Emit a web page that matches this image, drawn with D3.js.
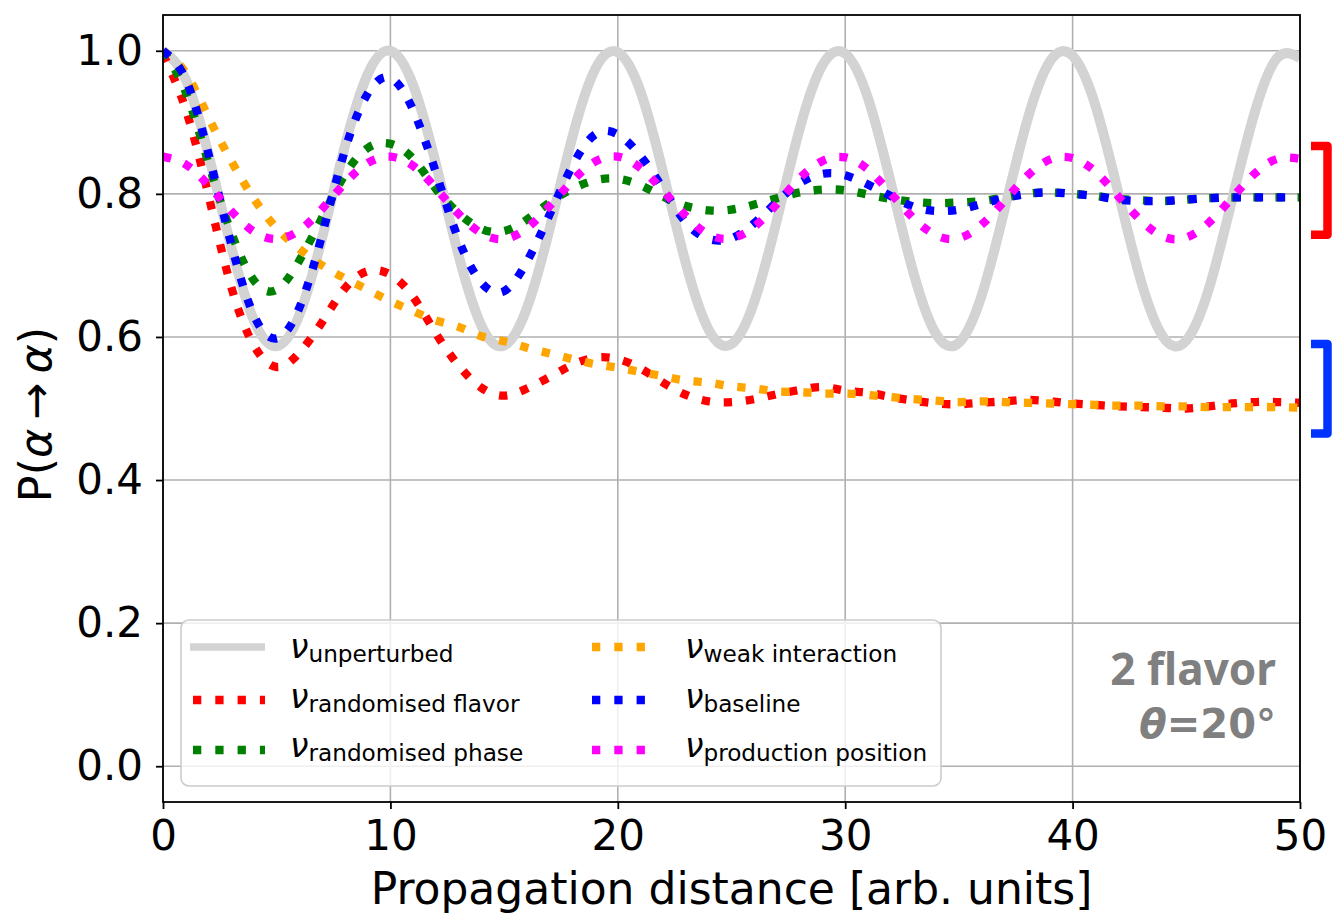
<!DOCTYPE html>
<html>
<head>
<meta charset="utf-8">
<script src="https://cdn.jsdelivr.net/npm/d3@7"></script>
<style>
  body { margin: 0; background: #fff; }
  text { font-family: "DejaVu Sans", sans-serif; }
</style>
</head>
<body>
<svg id="mainsvg" width="1332" height="919"></svg>
<script>
// propagation distance samples [arb. units]
const distance = [0,1,2,3,4,5,6,7,8,9,10,11,12,13,14,15,16,17,18,19,20,21,22,23,24,25,
  26,27,28,29,30,31,32,33,34,35,36,37,38,39,40,41,42,43,44,45,46,47,48,49,50];

// survival probability P(alpha -> alpha)
const unperturbed = [1.000,0.960,0.855,0.726,0.623,0.587,0.631,0.739,0.867,0.967,1.000,
  0.952,0.842,0.714,0.616,0.588,0.640,0.751,0.879,0.974,0.998,0.943,0.829,0.702,0.610,0.590,
  0.649,0.764,0.891,0.980,0.996,0.934,0.816,0.690,0.604,0.592,0.658,0.777,0.902,0.985,0.993,
  0.924,0.803,0.679,0.599,0.595,0.668,0.790,0.913,0.990,0.990];
const randomisedFlavor = [0.995,0.918,0.798,0.670,0.588,0.558,0.578,0.621,0.668,0.692,0.687,
  0.656,0.605,0.560,0.529,0.518,0.528,0.544,0.561,0.571,0.569,0.556,0.536,0.519,0.510,0.509,
  0.513,0.520,0.526,0.530,0.525,0.522,0.516,0.511,0.507,0.506,0.508,0.510,0.512,0.510,0.507,
  0.505,0.503,0.502,0.501,0.500,0.503,0.507,0.509,0.509,0.508];
const randomisedPhase = [1.000,0.942,0.843,0.746,0.679,0.666,0.707,0.767,0.827,0.864,0.870,
  0.849,0.807,0.773,0.751,0.748,0.764,0.788,0.807,0.819,0.821,0.812,0.796,0.783,0.777,0.778,
  0.785,0.794,0.802,0.806,0.805,0.799,0.793,0.789,0.787,0.788,0.790,0.795,0.800,0.802,0.800,
  0.797,0.793,0.791,0.790,0.792,0.794,0.795,0.795,0.795,0.795];
const weakInteraction = [1.000,0.969,0.907,0.846,0.793,0.752,0.723,0.700,0.682,0.666,0.650,
  0.636,0.623,0.614,0.601,0.594,0.585,0.577,0.569,0.562,0.557,0.551,0.545,0.539,0.536,0.531,
  0.528,0.524,0.523,0.521,0.521,0.519,0.516,0.513,0.511,0.509,0.510,0.509,0.508,0.507,0.506,
  0.505,0.504,0.504,0.503,0.503,0.502,0.502,0.502,0.502,0.501];
const baseline = [1.000,0.960,0.856,0.730,0.630,0.598,0.641,0.743,0.861,0.940,0.962,
  0.917,0.830,0.736,0.676,0.664,0.705,0.771,0.839,0.883,0.883,0.853,0.807,0.760,0.737,0.738,
  0.759,0.789,0.815,0.828,0.826,0.813,0.797,0.782,0.776,0.778,0.786,0.794,0.800,0.802,0.800,
  0.797,0.792,0.790,0.790,0.792,0.794,0.795,0.795,0.795,0.795];
const productionPosition = [0.852,0.841,0.812,0.776,0.747,0.737,0.749,0.779,0.815,0.843,0.852,
  0.839,0.808,0.772,0.745,0.737,0.752,0.783,0.818,0.845,0.852,0.836,0.804,0.769,0.743,0.738,
  0.754,0.786,0.822,0.846,0.851,0.834,0.801,0.766,0.742,0.738,0.757,0.790,0.825,0.848,0.850,
  0.831,0.797,0.763,0.740,0.739,0.760,0.794,0.828,0.849,0.849];

const seriesNames = ['unperturbed', 'randomised flavor', 'randomised phase',
  'weak interaction', 'baseline', 'production position'];
const seriesValues = [unperturbed, randomisedFlavor, randomisedPhase,
  weakInteraction, baseline, productionPosition];
const seriesColors = ['#d3d3d3', '#ff0000', '#008000', '#ffa500', '#0000ff', '#ff00ff'];

const xTicks = [0, 10, 20, 30, 40, 50];
const yTicks = [0.0, 0.2, 0.4, 0.6, 0.8, 1.0];

// ranges marked by the brackets at the right edge
const bracketRanges = [[0.743, 0.867], [0.465, 0.590]];
const bracketColors = ['#ff0000', '#0033ff'];

const svg = d3.select('#mainsvg');
const width = +svg.attr('width');
const height = +svg.attr('height');
const margin = { top: 15, right: 32, bottom: 117, left: 163 };
const innerWidth = width - margin.left - margin.right;
const innerHeight = height - margin.top - margin.bottom;
const g = svg.append('g').attr('id', 'maingroup')
  .attr('transform', `translate(${margin.left}, ${margin.top})`);

const xScale = d3.scaleLinear().domain([0, 50]).range([0, innerWidth]);
const yScale = d3.scaleLinear().domain([-0.05, 1.05]).range([innerHeight, 0]);

// grid
g.append('g').selectAll('line').data(xTicks).join('line')
  .attr('x1', d => xScale(d)).attr('x2', d => xScale(d))
  .attr('y1', 0).attr('y2', innerHeight)
  .attr('stroke', '#b0b0b0').attr('stroke-width', 1.6);
g.append('g').selectAll('line').data(yTicks).join('line')
  .attr('y1', d => yScale(d)).attr('y2', d => yScale(d))
  .attr('x1', 0).attr('x2', innerWidth)
  .attr('stroke', '#b0b0b0').attr('stroke-width', 1.6);

// axes
const xAxis = d3.axisBottom(xScale).tickValues(xTicks).tickSize(7).tickPadding(11)
  .tickFormat(d3.format('d'));
const xAxisGroup = g.append('g').attr('transform', `translate(0, ${innerHeight})`).call(xAxis);
const yAxis = d3.axisLeft(yScale).tickValues(yTicks).tickSize(7).tickPadding(13)
  .tickFormat(d3.format('.1f'));
const yAxisGroup = g.append('g').call(yAxis);
[xAxisGroup, yAxisGroup].forEach(ax => {
  ax.select('.domain').remove();
  ax.selectAll('line').attr('stroke', '#000').attr('stroke-width', 1.8);
  ax.selectAll('text').attr('font-size', 42).attr('fill', '#000')
    .attr('font-family', '"DejaVu Sans", sans-serif');
});

// curves
g.append('clipPath').attr('id', 'plotclip').append('rect')
  .attr('width', innerWidth).attr('height', innerHeight);
const line = d3.line()
  .x((d, i) => xScale(distance[i]))
  .y(d => yScale(d))
  .curve(d3.curveNatural);
const curves = g.append('g').attr('clip-path', 'url(#plotclip)');
seriesValues.forEach((vals, i) => {
  curves.append('path').datum(vals)
    .attr('d', line)
    .attr('fill', 'none')
    .attr('stroke', seriesColors[i])
    .attr('stroke-width', i === 0 ? 10 : 8.3)
    .attr('stroke-dasharray', i === 0 ? null : '8.3,13.8');
});

// spines
g.append('rect').attr('width', innerWidth).attr('height', innerHeight)
  .attr('fill', 'none').attr('stroke', '#000').attr('stroke-width', 1.8);

// axis labels
svg.append('text')
  .attr('x', margin.left + innerWidth / 2).attr('y', 904)
  .attr('text-anchor', 'middle').attr('font-size', 44)
  .text('Propagation distance [arb. units]');
const ylab = svg.append('text')
  .attr('transform', `translate(51, ${margin.top + innerHeight / 2 + 6}) rotate(-90)`)
  .attr('text-anchor', 'middle').attr('font-size', 44.5);
ylab.append('tspan').text('P(');
ylab.append('tspan').attr('font-style', 'italic').text('α');
ylab.append('tspan').text('\u2009→\u2009');
ylab.append('tspan').attr('font-style', 'italic').text('α');
ylab.append('tspan').text(')');

// legend
const legend = g.append('g');
legend.append('rect')
  .attr('x', 181 - margin.left).attr('y', 620 - margin.top)
  .attr('width', 760).attr('height', 166).attr('rx', 8)
  .attr('fill', '#fff').attr('fill-opacity', 0.8)
  .attr('stroke', '#cccccc').attr('stroke-width', 1.6);
const colX = [[190, 265, 290], [589, 657, 685]];
const handleY = [647, 700, 750];
const textY = [658, 708, 757];
seriesNames.forEach((name, i) => {
  const col = Math.floor(i / 3), row = i % 3;
  const [hx1, hx2, tx] = colX[col];
  legend.append('line')
    .attr('x1', hx1 - margin.left + (i === 0 ? 0 : 3)).attr('x2', hx2 - margin.left)
    .attr('y1', handleY[row] - margin.top).attr('y2', handleY[row] - margin.top)
    .attr('stroke', seriesColors[i])
    .attr('stroke-width', i === 0 ? 7.5 : 8.3)
    .attr('stroke-dasharray', i === 0 ? null : '8.3,14');
  const t = legend.append('text')
    .attr('x', tx - margin.left).attr('y', textY[row] - margin.top)
    .attr('font-size', 33);
  t.append('tspan').attr('font-style', 'italic').text('ν');
  t.append('tspan').attr('font-size', 23.2).attr('dy', 4).text(name);
});

// annotation
const note = svg.append('g').attr('fill', '#808080')
  .attr('font-weight', 'bold').attr('text-anchor', 'end');
note.append('text').attr('x', 1276).attr('y', 685).attr('font-size', 44)
  .style('font-family', '"Noto Sans", sans-serif').text('2 flavor');
const theta = note.append('text').attr('x', 1276).attr('y', 738).attr('font-size', 40)
  .style('font-family', '"DejaVu Sans", sans-serif');
theta.append('tspan').attr('font-style', 'italic').text('θ');
theta.append('tspan').text('=20°');

// brackets right of the axes
bracketRanges.forEach((r, i) => {
  const yTop = margin.top + yScale(r[1]);
  const yBot = margin.top + yScale(r[0]);
  svg.append('path')
    .attr('d', `M1311,${yTop}H1327.5V${yBot}H1311`)
    .attr('fill', 'none').attr('stroke', bracketColors[i])
    .attr('stroke-width', 8.5).attr('stroke-linejoin', 'round');
});
</script>
</body>
</html>
